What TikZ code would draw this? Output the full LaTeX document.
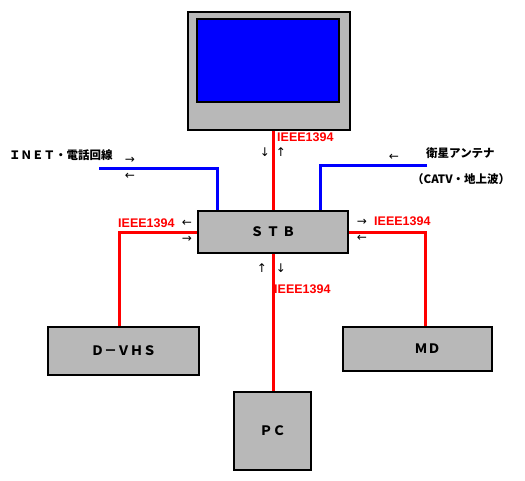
\documentclass[tikz,border=0pt]{standalone}
\usepackage{fontspec}
\setmainfont{Liberation Sans}
\newfontfamily\jp{Noto Sans CJK JP}
\newfontfamily\arr{DejaVu Sans}
\usetikzlibrary{calc,backgrounds}
\definecolor{boxgray}{RGB}{184,184,184}
\definecolor{tvblue}{RGB}{0,0,255}
\definecolor{ieeered}{RGB}{255,0,0}
\tikzset{
  devbox/.style={draw=black, line width=2pt, fill=boxgray, inner sep=0pt, font=\jp\bfseries\fontsize{13}{13}\selectfont},
  redline/.style={draw=ieeered, line width=3pt},
  blueline/.style={draw=tvblue, line width=3pt},
  lbl/.style={text=ieeered, font=\bfseries\fontsize{12.5}{12.5}\selectfont, inner sep=0pt},
  arrowtxt/.style={font=\arr\fontsize{12}{12}\selectfont, inner sep=0pt},
  jptxt/.style={font=\jp\bfseries\fontsize{11.5}{11.5}\selectfont, inner sep=0pt}
}
\begin{document}
\begin{tikzpicture}[x=1pt,y=-1pt]
\useasboundingbox (0,0) rectangle (525,480);
% devices
\node[devbox, minimum width=162pt, minimum height=118pt] (tv) at (269,71) {};
\node[draw=black, line width=2pt, fill=tvblue, minimum width=142pt, minimum height=83pt, inner sep=0pt] (screen) at (268,60.5) {};
\node[devbox, minimum width=150pt, minimum height=42pt] (stb) at (273,232) {Ｓ Ｔ Ｂ};
\node[devbox, minimum width=151pt, minimum height=48pt] (dvhs) at (123.5,351) {Ｄ－ＶＨＳ};
\node[devbox, minimum width=149pt, minimum height=44pt] (md) at (417.5,349) {\hspace*{20pt}ＭＤ};
\node[devbox, minimum width=77pt, minimum height=78pt] (pc) at (272.5,431) {ＰＣ};
% free ends
\coordinate (inet) at (99,168);
\coordinate (sat) at (427,165);
% connectors
\begin{scope}[on background layer]
\draw[blueline] (inet) -| ($(stb.north west)+(20,0)$);
\draw[blueline] (sat) -| ($(stb.north east)+(-29,0)$);
\draw[redline] (stb.north) -- (stb.north |- tv.south);
\draw[redline] (stb.west) -| ($(dvhs.north)+(-4.5,0)$);
\draw[redline] (stb.east) -| ($(md.north)+(7.5,0)$);
\draw[redline] (stb.south) -- (stb.south |- pc.north);
\end{scope}
% labels
\node[lbl, anchor=west] (l1) at (277,137) {IEEE1394};
\node[lbl, anchor=west] (l2) at (118,223) {IEEE1394};
\node[lbl, anchor=west] (l3) at (374,221) {IEEE1394};
\node[lbl, anchor=west] (l4) at (274,289) {IEEE1394};
% arrows
\node[arrowtxt] (a1) at (265,152) {↓};
\node[arrowtxt] (a2) at (281,152) {↑};
\node[arrowtxt] (a3) at (130,160) {→};
\node[arrowtxt] (a4) at (130,176) {←};
\node[arrowtxt] (a5) at (394,157) {←};
\node[arrowtxt] (a6) at (187,223) {←};
\node[arrowtxt] (a7) at (187,239) {→};
\node[arrowtxt] (a8) at (362,222) {→};
\node[arrowtxt] (a9) at (362,238) {←};
\node[arrowtxt] (a10) at (262,268) {↑};
\node[arrowtxt] (a11) at (281,268) {↓};
% texts
\node[jptxt, anchor=west] (inettxt) at (9,155) {ＩＮＥＴ・電話回線};
\node[jptxt, anchor=west] (sattxt) at (426,153) {衛星アンテナ};
\node[jptxt, anchor=west] (catv) at (412,179) {（CATV・地上波）};
\end{tikzpicture}
\end{document}
